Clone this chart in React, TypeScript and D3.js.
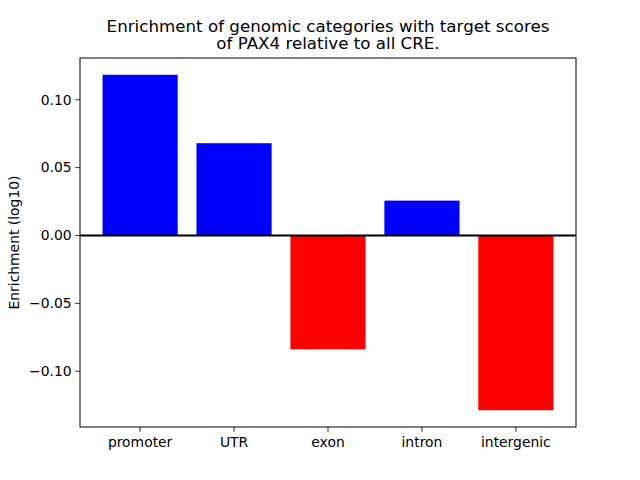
import React from "react";
import * as d3 from "d3";

const categories = ["promoter", "UTR", "exon", "intron", "intergenic"];
const values = [0.1184, 0.068, -0.0838, 0.0257, -0.1287];
const yTicks = [-0.1, -0.05, 0.0, 0.05, 0.1];
const titleLines = ["Enrichment of genomic categories with target scores", "of PAX4 relative to all CRE."];
const yLabel = "Enrichment (log10)";

const W = 640, H = 480;
const L = 80, R = 576, T = 58, B = 427;
const font = "DejaVu Sans, sans-serif";

export default function App() {
  const n = categories.length;
  const x = d3.scaleLinear().domain([-0.64, n - 1 + 0.64]).range([L, R]);
  const lo = Math.min(0, d3.min(values)!), hi = Math.max(0, d3.max(values)!);
  const pad = (hi - lo) * 0.05;
  const y = d3.scaleLinear().domain([lo - pad, hi + pad]).range([B, T]);
  const fmt = (v: number) => (v < 0 ? "\u2212" : "") + Math.abs(v).toFixed(2);
  return (
    <svg width={W} height={H} style={{ position: "absolute", left: 0, top: 0, background: "#fff" }}>
      <rect x={0} y={0} width={W} height={H} fill="#fff" />
      {values.map((v, i) => (
        <rect key={i} x={x(i - 0.4)} width={x(0.8) - x(0)} y={y(Math.max(0, v))}
          height={Math.abs(y(v) - y(0))} fill={v >= 0 ? "#0000ff" : "#ff0000"} />
      ))}
      <line x1={L} x2={R} y1={y(0)} y2={y(0)} stroke="#000" strokeWidth={2} />
      <rect x={L} y={T} width={R - L} height={B - T} fill="none" stroke="#000" strokeWidth={1} />
      {yTicks.map((t) => (
        <g key={t}>
          <line x1={L - 4.9} x2={L} y1={y(t)} y2={y(t)} stroke="#000" strokeWidth={0.8} />
          <text x={L - 8.4} y={y(t)} dy="0.35em" textAnchor="end" fontFamily={font} fontSize={13.9}>{fmt(t)}</text>
        </g>
      ))}
      {categories.map((c, i) => (
        <g key={c}>
          <line x1={x(i)} x2={x(i)} y1={B} y2={B + 4.9} stroke="#000" strokeWidth={0.8} />
          <text x={x(i)} y={B + 8.4} dy="0.8em" textAnchor="middle" fontFamily={font} fontSize={13.9}>{c}</text>
        </g>
      ))}
      <text transform={`translate(19,${(T + B) / 2}) rotate(-90)`} textAnchor="middle" fontFamily={font} fontSize={13.9}>{yLabel}</text>
      {titleLines.map((s, i) => (
        <text key={i} x={(L + R) / 2} y={32 + i * 17} textAnchor="middle" fontFamily={font} fontSize={16.7}>{s}</text>
      ))}
    </svg>
  );
}
